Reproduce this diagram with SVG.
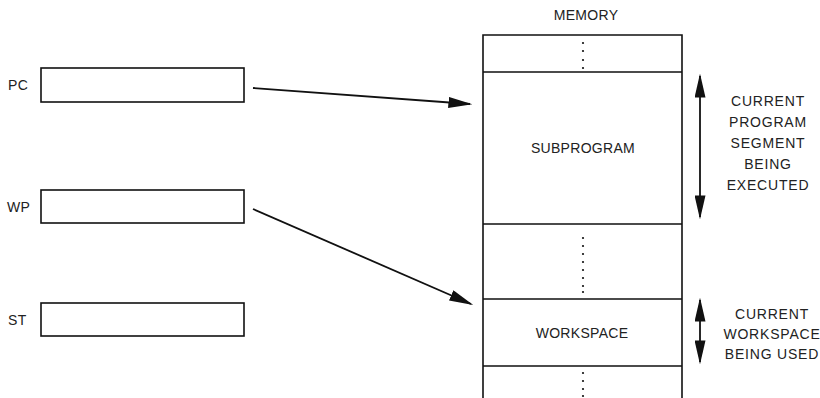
<svg xmlns="http://www.w3.org/2000/svg" width="820" height="398" viewBox="0 0 820 398">
<style>
.box{fill:#fff;stroke:#111;stroke-width:1.6}
.ln{stroke:#111;stroke-width:1.6;fill:none}
.t{font-family:"Liberation Sans",Arial,sans-serif;font-size:14px;fill:#222;letter-spacing:0.3px}
.n{letter-spacing:0.8px}
.c{text-anchor:middle}
.dot{fill:#111}
.arr{stroke:#111;stroke-width:1.8;fill:none}
</style>
<defs>
<marker id="ah2" viewBox="0 0 10 10" refX="9" refY="5" markerWidth="24" markerHeight="11" markerUnits="userSpaceOnUse" orient="auto-start-reverse" preserveAspectRatio="none">
<path d="M0,0 L10,5 L0,10 Z" fill="#111"/>
</marker>
<marker id="ah3" viewBox="0 0 10 10" refX="9" refY="5" markerWidth="24" markerHeight="11" markerUnits="userSpaceOnUse" orient="auto" preserveAspectRatio="none">
<path d="M0,0 L10,5 L0,10 Z" fill="#111"/>
</marker>
</defs>
<g id="pc">
<text class="t" x="8" y="90">PC</text>
<rect class="box" x="41" y="68" width="203" height="34"/>
</g>
<g id="wp">
<text class="t" x="7" y="212">WP</text>
<rect class="box" x="41" y="190" width="203" height="33"/>
</g>
<g id="st">
<text class="t" x="8" y="325">ST</text>
<rect class="box" x="41" y="303" width="203" height="33"/>
</g>
<g id="memory">
<text class="t c" x="586" y="20">MEMORY</text>
<path class="ln" d="M483,398 V35 H682 V398 M483,72 H682 M483,224 H682 M483,299 H682 M483,366 H682"/>
<g class="dot">
<circle cx="583" cy="43" r="1.1"/><circle cx="583" cy="51" r="1.1"/><circle cx="583" cy="60" r="1.1"/><circle cx="583" cy="68" r="1.1"/>
<circle cx="583" cy="238" r="1.1"/><circle cx="583" cy="246" r="1.1"/><circle cx="583" cy="254" r="1.1"/><circle cx="583" cy="262" r="1.1"/><circle cx="583" cy="270" r="1.1"/><circle cx="583" cy="278" r="1.1"/><circle cx="583" cy="286" r="1.1"/><circle cx="583" cy="292" r="1.1"/>
<circle cx="583" cy="373" r="1.1"/><circle cx="583" cy="381" r="1.1"/><circle cx="583" cy="389" r="1.1"/><circle cx="583" cy="396" r="1.1"/>
</g>
</g>
<g id="subprogram">
<text class="t c" x="583" y="153">SUBPROGRAM</text>
</g>
<g id="workspace">
<text class="t c" x="582" y="338">WORKSPACE</text>
</g>
<g id="program-note">
<text class="t n c" x="768" y="106">CURRENT</text>
<text class="t n c" x="768" y="127">PROGRAM</text>
<text class="t n c" x="768" y="148">SEGMENT</text>
<text class="t n c" x="768" y="169">BEING</text>
<text class="t n c" x="768" y="190">EXECUTED</text>
</g>
<g id="workspace-note">
<text class="t n c" x="772" y="319">CURRENT</text>
<text class="t n c" x="772" y="339">WORKSPACE</text>
<text class="t n c" x="772" y="359">BEING USED</text>
</g>
<g id="connectors">
<line class="arr" x1="253" y1="88" x2="470" y2="104" marker-end="url(#ah2)"/>
<line class="arr" x1="253" y1="209" x2="471" y2="304" marker-end="url(#ah2)"/>
<line class="arr" x1="700" y1="76" x2="700" y2="217" marker-start="url(#ah2)" marker-end="url(#ah3)"/>
<line class="arr" x1="700" y1="300" x2="700" y2="362" marker-start="url(#ah2)" marker-end="url(#ah3)"/>
</g>
</svg>
